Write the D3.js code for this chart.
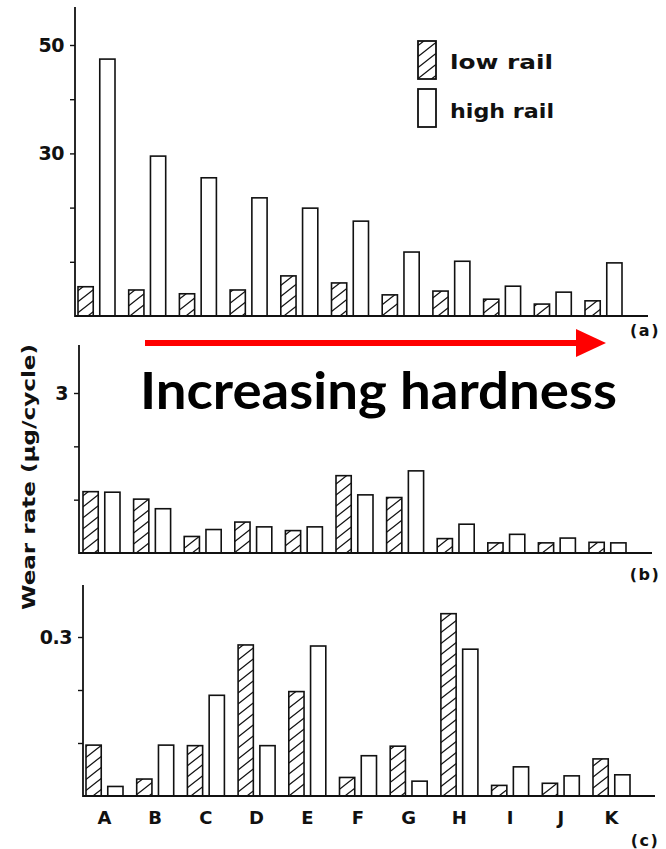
<!DOCTYPE html>
<html>
<head>
<meta charset="utf-8">
<script src="https://cdn.jsdelivr.net/npm/d3@7"></script>
<style>
  html, body { margin: 0; padding: 0; background: #fff; }
  svg { display: block; }
  .bold { font-family: "DejaVu Sans", sans-serif; font-weight: bold; }
</style>
</head>
<body>
<svg id="chart" width="666" height="849"></svg>
<script>
// ---------- data ----------
const categories = ["A", "B", "C", "D", "E", "F", "G", "H", "I", "J", "K"];
const seriesNames = ["low rail", "high rail"];

// panel (a)
const lowA  = [5.4, 4.8, 4.1, 4.8, 7.4, 6.1, 3.9, 4.6, 3.1, 2.2, 2.8];
const highA = [47.4, 29.5, 25.5, 21.8, 19.9, 17.5, 11.8, 10.1, 5.5, 4.4, 9.8];
const ticksA = [10, 20, 30, 40, 50];
const tickLabelsA = ["", "", "30", "", "50"];

// panel (b)
const lowB  = [1.15, 1.01, 0.31, 0.58, 0.42, 1.45, 1.04, 0.27, 0.19, 0.19, 0.20];
const highB = [1.14, 0.83, 0.44, 0.49, 0.49, 1.09, 1.54, 0.54, 0.35, 0.28, 0.19];
const ticksB = [1, 2, 3];
const tickLabelsB = ["", "", "3"];

// panel (c)
const lowC  = [0.096, 0.032, 0.095, 0.285, 0.197, 0.035, 0.094, 0.344, 0.020, 0.024, 0.070];
const highC = [0.018, 0.096, 0.190, 0.095, 0.283, 0.076, 0.028, 0.277, 0.055, 0.038, 0.040];
const ticksC = [0.1, 0.2, 0.3];
const tickLabelsC = ["", "", "0.3"];

const panelLabels = ["(a)", "(b)", "(c)"];
const yTitle = "Wear rate (\u03bcg/cycle)";
const annotation = "Increasing hardness";

// ---------- drawing ----------
const svg = d3.select("#chart");
const defs = svg.append("defs");
const pat = defs.append("pattern")
  .attr("id", "hatch").attr("patternUnits", "userSpaceOnUse")
  .attr("width", 14).attr("height", 11);
pat.append("rect").attr("width", 14).attr("height", 11).attr("fill", "#fff");
pat.append("path")
  .attr("d", "M0,11 L14,0 M-7,5.5 L7,-5.5 M7,16.5 L21,5.5")
  .attr("stroke", "#111").attr("stroke-width", 1.3);

const panels = [
  { low: lowA, high: highA, ticks: ticksA, labels: tickLabelsA, max: 50,
    axisX: 75, top: 7, base: 316, topVal: 45, x0: 78, step: 50.7, right: 648,
    tagX: 645, tagY: 336 },
  { low: lowB, high: highB, ticks: ticksB, labels: tickLabelsB, max: 3,
    axisX: 79, top: 345, base: 553, topVal: 393, x0: 83, step: 50.6, right: 652,
    tagX: 645, tagY: 580 },
  { low: lowC, high: highC, ticks: ticksC, labels: tickLabelsC, max: 0.3,
    axisX: 83, top: 585, base: 796, topVal: 637, x0: 86, step: 50.7, right: 655,
    tagX: 645, tagY: 846 }
];

panels.forEach((p, pi) => {
  const g = svg.append("g");
  const y = d3.scaleLinear().domain([0, p.max]).range([p.base, p.topVal]);
  const x = d3.scaleBand().domain(categories)
    .range([p.x0, p.x0 + categories.length * p.step]).padding(0);
  const xs = d3.scaleBand().domain(seriesNames).range([0, 37]).paddingInner(0.3).paddingOuter(0);

  // bars
  categories.forEach((c, i) => {
    [["low rail", p.low[i]], ["high rail", p.high[i]]].forEach(([s, v]) => {
      g.append("rect")
        .attr("x", x(c) + xs(s))
        .attr("y", y(v))
        .attr("width", xs.bandwidth())
        .attr("height", y(0) - y(v))
        .attr("fill", s === "low rail" ? "url(#hatch)" : "#fff")
        .attr("stroke", "#111").attr("stroke-width", 1.6);
    });
  });

  // y axis
  const ax = g.append("g").attr("transform", `translate(${p.axisX},0)`)
    .call(d3.axisLeft(y).tickValues(p.ticks)
      .tickFormat((d, i) => p.labels[i]).tickSize(5).tickPadding(6));
  ax.attr("font-size", null).attr("font-family", null);
  ax.select(".domain").remove();
  ax.selectAll(".tick line").attr("stroke", "#111").attr("stroke-width", 1.4);
  ax.selectAll(".tick text")
    .style("font-family", "'DejaVu Sans', sans-serif").style("font-weight", "bold")
    .style("font-size", "19px").style("letter-spacing", "-0.5px")
    .attr("fill", "#111");
  g.append("line").attr("x1", p.axisX).attr("x2", p.axisX)
    .attr("y1", p.top).attr("y2", p.base + 1)
    .attr("stroke", "#111").attr("stroke-width", 1.8);
  // baseline
  g.append("line").attr("x1", p.axisX).attr("x2", p.right)
    .attr("y1", p.base).attr("y2", p.base)
    .attr("stroke", "#111").attr("stroke-width", 2.2);

  // panel tag
  g.append("text").attr("x", p.tagX).attr("y", p.tagY)
    .attr("text-anchor", "middle")
    .style("font-family", "'DejaVu Sans', sans-serif").style("font-weight", "bold")
    .style("font-size", "16px").style("letter-spacing", "1.5px")
    .attr("fill", "#111").text(panelLabels[pi]);

  // x labels only on panel (c)
  if (pi === 2) {
    categories.forEach(c => {
      g.append("text")
        .attr("x", x(c) + 18.5).attr("y", 824)
        .attr("text-anchor", "middle")
        .style("font-family", "'DejaVu Sans', sans-serif").style("font-weight", "bold")
        .style("font-size", "18px")
        .attr("fill", "#111").text(c);
    });
  }
});

// legend
const leg = svg.append("g");
leg.append("rect").attr("x", 418).attr("y", 41).attr("width", 18).attr("height", 38)
  .attr("fill", "url(#hatch)").attr("stroke", "#111").attr("stroke-width", 1.8);
leg.append("rect").attr("x", 418).attr("y", 89).attr("width", 18).attr("height", 38)
  .attr("fill", "#fff").attr("stroke", "#111").attr("stroke-width", 1.8);
leg.append("text").attr("class", "bold").attr("x", 450).attr("y", 69)
  .attr("font-size", 19).attr("fill", "#111")
  .attr("textLength", 103).attr("lengthAdjust", "spacingAndGlyphs").text(seriesNames[0]);
leg.append("text").attr("class", "bold").attr("x", 450).attr("y", 118)
  .attr("font-size", 19).attr("fill", "#111")
  .attr("textLength", 104).attr("lengthAdjust", "spacingAndGlyphs").text(seriesNames[1]);

// y title
svg.append("text").attr("class", "bold")
  .attr("transform", "translate(35,477) rotate(-90)")
  .attr("text-anchor", "middle").attr("font-size", 18).attr("fill", "#111")
  .attr("textLength", 266).attr("lengthAdjust", "spacingAndGlyphs")
  .text(yTitle);

// red arrow
svg.append("line").attr("x1", 145).attr("x2", 580).attr("y1", 343).attr("y2", 343)
  .attr("stroke", "#ff0000").attr("stroke-width", 6);
svg.append("path").attr("d", "M576,329 L606,343 L576,357 Z").attr("fill", "#ff0000");

// annotation
svg.append("text").attr("x", 140).attr("y", 409)
  .attr("font-family", "Lato, 'Open Sans', sans-serif").attr("font-weight", "bold")
  .attr("font-size", 51).attr("fill", "#000")
  .attr("textLength", 477).attr("lengthAdjust", "spacingAndGlyphs")
  .text(annotation);
</script>
</body>
</html>
